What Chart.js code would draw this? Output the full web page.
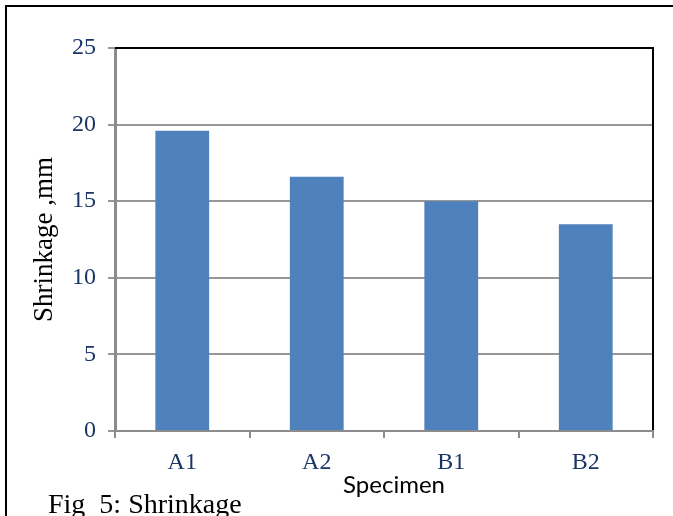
<!DOCTYPE html>
<html>
<head>
<meta charset="utf-8">
<script src="https://cdn.jsdelivr.net/npm/chart.js@4/dist/chart.umd.min.js"></script>
<style>
  html, body { margin: 0; padding: 0; background: #fff; }
  #wrap { position: relative; width: 673px; height: 516px; overflow: hidden; }
  #frame { position: absolute; left: 5px; top: 5px; right: -10px; bottom: -10px;
           border-left: 2px solid #000; border-top: 2px solid #000; }
  #chart { position: absolute; left: 0; top: 0; }
  #caption { position: absolute; left: 48px; top: 490px; line-height: 28px;
             font-family: "Liberation Serif", "Times New Roman", serif; font-size: 28px;
             color: #000; white-space: pre; }
</style>
</head>
<body>
<div id="wrap">
  <div id="frame"></div>
  <canvas id="chart" width="673" height="516"></canvas>
  <div id="caption">Fig  5: Shrinkage</div>
</div>
<script>
// Shrinkage per specimen, mm
const specimens = ['A1', 'A2', 'B1', 'B2'];
const shrinkage = [19.6, 16.6, 15.0, 13.5];
const yTicks = [0, 5, 10, 15, 20, 25];
const xTitle = 'Specimen';

const serif = '"Liberation Serif", "Times New Roman", serif';
const tickColor = '#1A3566';
const axisGrey = '#8C8C8C';

// Plot frame (top/right in black), the category axis line over the bars,
// and the category axis title set a little right of centre
const framePlugin = {
  id: 'frame',
  afterDatasetsDraw(chart) {
    const { ctx, chartArea: a } = chart;
    ctx.save();
    ctx.lineWidth = 2;
    ctx.strokeStyle = '#000';
    ctx.beginPath();
    ctx.moveTo(a.left, a.top);
    ctx.lineTo(a.right, a.top);
    ctx.lineTo(a.right, a.bottom);
    ctx.stroke();
    ctx.strokeStyle = axisGrey;
    ctx.beginPath();
    ctx.moveTo(a.left, a.bottom);
    ctx.lineTo(a.right + 1, a.bottom);
    ctx.stroke();

    ctx.fillStyle = '#000';
    ctx.font = '24px Lato, "Liberation Sans", sans-serif';
    ctx.textAlign = 'center';
    ctx.textBaseline = 'alphabetic';
    ctx.fillText(xTitle, (a.left + a.right) / 2 + 10, a.bottom + 62);
    ctx.restore();
  }
};

new Chart(document.getElementById('chart'), {
  type: 'bar',
  data: {
    labels: specimens,
    datasets: [{
      data: shrinkage,
      backgroundColor: '#4F81BD',
      borderWidth: 0,
      categoryPercentage: 1.0,
      barPercentage: 0.4
    }]
  },
  options: {
    responsive: false,
    animation: false,
    devicePixelRatio: 1,
    layout: { padding: { left: 0, right: 20, top: 48, bottom: 0 } },
    plugins: { legend: { display: false }, tooltip: { enabled: false } },
    scales: {
      x: {
        afterFit(s) { s.height = 85; },
        grid: { offset: true, drawOnChartArea: false, drawTicks: true, tickLength: 7,
                color: axisGrey, lineWidth: 2 },
        border: { display: false },
        ticks: { color: tickColor, font: { family: serif, size: 24 }, padding: 10 }
      },
      y: {
        min: 0, max: 25,
        afterFit(s) { s.width = 115; },
        afterBuildTicks(s) { s.ticks = yTicks.map(v => ({ value: v })); },
        grid: { color: '#979797', lineWidth: 2, tickLength: 7 },
        border: { display: true, color: axisGrey, width: 3 },
        ticks: { color: tickColor, font: { family: serif, size: 24 }, padding: 12 },
        title: { display: true, text: 'Shrinkage ,mm', color: '#000',
                 font: { family: serif, size: 27 }, padding: { top: 29, bottom: 0 } }
      }
    }
  },
  plugins: [framePlugin]
});
</script>
</body>
</html>
